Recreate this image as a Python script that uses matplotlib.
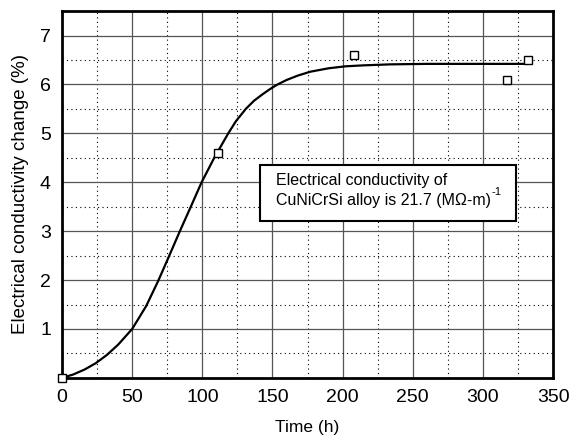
import matplotlib.pyplot as plt
from matplotlib.patches import Rectangle
from matplotlib.ticker import MultipleLocator

plt.rcParams['font.family'] = ['Liberation Sans', 'DejaVu Sans']

# measured points
time_h = [0, 111, 208, 317, 332]
change = [0, 4.6, 6.6, 6.1, 6.5]

# fitted curve
curve_t = [0, 8, 16, 24, 32, 40, 50, 60, 68.5, 76, 84, 91.8, 99.5, 108.5,
           118.5, 124, 131, 137, 143, 148, 153, 160, 168, 177, 190, 202, 215,
           234, 260, 300, 332]
curve_y = [0, 0.07, 0.17, 0.3, 0.47, 0.68, 1.0, 1.47, 1.98, 2.47, 3.0, 3.5,
           4.0, 4.5, 5.0, 5.25, 5.5, 5.67, 5.8, 5.9, 5.99, 6.09, 6.18, 6.26,
           6.33, 6.37, 6.39, 6.41, 6.42, 6.42, 6.42]

fig = plt.figure(figsize=(5.69, 4.42), dpi=100)
ax = fig.add_axes([0.109, 0.145, 0.863, 0.830])

ax.plot(curve_t, curve_y, color='black', lw=1.6, zorder=3)
ax.plot(time_h, change, ls='none', marker='s', ms=6, mfc='white', mec='black',
        mew=1.0, clip_on=False, zorder=4)

ax.set_xlim(0, 350)
ax.set_ylim(0, 7.5)
ax.xaxis.set_major_locator(MultipleLocator(50))
ax.xaxis.set_minor_locator(MultipleLocator(25))
ax.set_yticks([1, 2, 3, 4, 5, 6, 7])
ax.yaxis.set_minor_locator(MultipleLocator(0.5))

ax.grid(which='major', color='#555555', lw=0.9)
ax.grid(which='minor', color='black', ls=(0, (1, 3)), lw=0.8)
ax.set_axisbelow(True)
ax.tick_params(which='both', length=0, labelsize=14, pad=8)
for s in ax.spines.values():
    s.set_linewidth(2)

ax.set_xlabel('Time (h)', fontsize=12.5, labelpad=10)
ax.set_ylabel('Electrical conductivity change (%)', fontsize=13.5, labelpad=8)

# annotation box
ax.add_patch(Rectangle((141, 3.2), 182.5, 1.15, facecolor='white',
                       edgecolor='black', lw=1.5, zorder=5))
ax.text(152.5, 4.03, 'Electrical conductivity of', fontsize=11.5,
        va='center', zorder=6)
t2 = ax.text(152.5, 3.62, 'CuNiCrSi alloy is 21.7 (MΩ-m)', fontsize=11.5,
             va='center', zorder=6)
ax.annotate('-1', xy=(1, 0.75), xycoords=t2, xytext=(0.5, 0),
            textcoords='offset points', fontsize=8, va='bottom', zorder=6)

fig.savefig('out.png', dpi=100)
